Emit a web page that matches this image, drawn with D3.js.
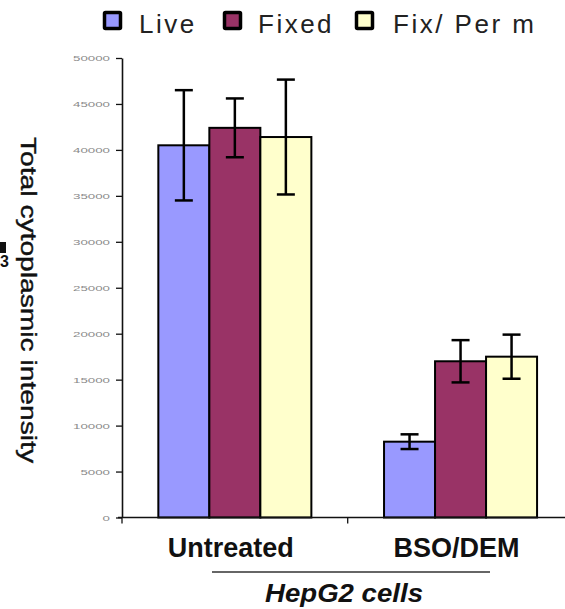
<!DOCTYPE html>
<html>
<head>
<meta charset="utf-8">
<script src="https://cdn.jsdelivr.net/npm/d3@7"></script>
<style>
  html, body { margin: 0; padding: 0; background: #fff; }
  svg { display: block; }
</style>
</head>
<body>
<script>
// Group labels, series and values (mean ± error) of cytoplasmic intensity
const categories = ["Untreated", "BSO/DEM"];
const seriesNames = ["Live", "Fixed", "Fix/ Per m"];
const seriesColors = ["#9999FF", "#993366", "#FFFFCC"];
const liveMeans = [40500, 8250];
const fixedMeans = [42400, 17000];
const permMeans = [41400, 17500];
const liveErrors = [6000, 800];
const fixedErrors = [3200, 2300];
const permErrors = [6250, 2400];
const yTicks = [0, 5000, 10000, 15000, 20000, 25000, 30000, 35000, 40000, 45000, 50000];

const W = 565, H = 609;
const svg = d3.select("body").append("svg").attr("width", W).attr("height", H);

const plot = { left: 122, right: 573.4, top: 58, bottom: 517.5 };

const y = d3.scaleLinear().domain([0, 50000]).range([plot.bottom, plot.top]);
const x0 = d3.scaleBand().domain(categories).range([plot.left, plot.right])
  .paddingInner(0.322).paddingOuter(0.161);
const x1 = d3.scaleBand().domain(seriesNames).range([0, x0.bandwidth()]);
const color = d3.scaleOrdinal().domain(seriesNames).range(seriesColors);

const means = [liveMeans, fixedMeans, permMeans];
const errors = [liveErrors, fixedErrors, permErrors];
const rows = [];
categories.forEach((c, ci) => {
  seriesNames.forEach((s, si) => {
    rows.push({ cat: c, series: s, value: means[si][ci], err: errors[si][ci] });
  });
});

// Bars
svg.append("g").selectAll("rect").data(rows).join("rect")
  .attr("x", d => x0(d.cat) + x1(d.series))
  .attr("y", d => y(d.value))
  .attr("width", x1.bandwidth())
  .attr("height", d => y(0) - y(d.value))
  .attr("fill", d => color(d.series))
  .attr("stroke", "#000")
  .attr("stroke-width", 2);

// Error bars
const eb = svg.append("g").attr("stroke", "#000").attr("stroke-width", 2.5);
rows.forEach(d => {
  const cx = x0(d.cat) + x1(d.series) + x1.bandwidth() / 2;
  const yt = y(d.value + d.err), yb = y(d.value - d.err);
  eb.append("line").attr("x1", cx).attr("x2", cx).attr("y1", yt).attr("y2", yb);
  eb.append("line").attr("x1", cx - 9).attr("x2", cx + 9).attr("y1", yt).attr("y2", yt);
  eb.append("line").attr("x1", cx - 9).attr("x2", cx + 9).attr("y1", yb).attr("y2", yb);
});

// Y axis
const yAxis = svg.append("g").attr("transform", `translate(${plot.left},0)`)
  .call(d3.axisLeft(y).tickValues(yTicks).tickSize(6).tickSizeOuter(0).tickFormat(d3.format("d")));
yAxis.select(".domain").attr("stroke", "#111").attr("stroke-width", 1.6);
yAxis.selectAll(".tick line").attr("stroke", "#111").attr("stroke-width", 1.3);
yAxis.selectAll(".tick text")
  .attr("x", -12)
  .attr("dy", "0.35em")
  .attr("fill", "#8a8a8a")
  .attr("font-family", "Liberation Sans, Arial, sans-serif")
  .attr("font-size", 8)
  .attr("textLength", function () { return this.textContent.length * 7.4; })
  .attr("lengthAdjust", "spacingAndGlyphs");

// X axis
const xAxis = svg.append("g").attr("transform", `translate(0,${plot.bottom})`);
xAxis.append("line").attr("x1", plot.left - 4).attr("x2", W)
  .attr("y1", 0).attr("y2", 0).attr("stroke", "#111").attr("stroke-width", 1.6);
const boundaries = [plot.left, (x0(categories[0]) + x0.bandwidth() + x0(categories[1])) / 2];
xAxis.selectAll("line.tk").data(boundaries).join("line").attr("class", "tk")
  .attr("x1", d => d).attr("x2", d => d).attr("y1", 0).attr("y2", 6)
  .attr("stroke", "#111").attr("stroke-width", 1.3);

// Category labels
svg.append("g").selectAll("text").data(categories).join("text")
  .attr("x", d => x0(d) + x0.bandwidth() / 2 - 4)
  .attr("y", 557)
  .attr("text-anchor", "middle")
  .attr("font-family", "Liberation Sans, Arial, sans-serif")
  .attr("font-weight", "bold")
  .attr("font-size", 27)
  .attr("fill", "#111")
  .text(d => d);

// Bracket line and group caption
svg.append("line").attr("x1", 212).attr("x2", 490).attr("y1", 572).attr("y2", 572)
  .attr("stroke", "#333").attr("stroke-width", 1.5);
svg.append("text")
  .attr("x", 344).attr("y", 602)
  .attr("text-anchor", "middle")
  .attr("font-family", "Liberation Sans, Arial, sans-serif")
  .attr("font-weight", "bold").attr("font-style", "italic")
  .attr("font-size", 25)
  .attr("textLength", 158).attr("lengthAdjust", "spacingAndGlyphs")
  .attr("fill", "#111")
  .text("HepG2 cells");

// Y axis title
svg.append("text")
  .attr("transform", "translate(21,300) rotate(90)")
  .attr("text-anchor", "middle")
  .attr("font-family", "Liberation Sans, Arial, sans-serif")
  .attr("font-size", 22)
  .attr("stroke", "#111").attr("stroke-width", 0.4)
  .attr("textLength", 326).attr("lengthAdjust", "spacingAndGlyphs")
  .attr("fill", "#111")
  .text("Total cytoplasmic intensity");

// Panel marker at the left edge
svg.append("rect").attr("x", 0).attr("y", 242).attr("width", 6).attr("height", 11).attr("fill", "#111");
svg.append("text").attr("x", 0).attr("y", 267)
  .attr("font-family", "Liberation Sans, Arial, sans-serif")
  .attr("font-weight", "bold").attr("font-size", 16).attr("fill", "#111")
  .text("3");

// Legend
const legendX = [103, 223, 355];
const legendTextX = [139, 258, 393];
const legend = svg.append("g");
seriesNames.forEach((s, i) => {
  legend.append("rect")
    .attr("x", legendX[i] + 1.5).attr("y", 12.5)
    .attr("width", 16).attr("height", 16)
    .attr("fill", color(s)).attr("stroke", "#000").attr("stroke-width", 3.5)
    .attr("rx", 1);
  legend.append("text")
    .attr("x", legendTextX[i]).attr("y", 33)
    .attr("font-family", "Liberation Sans, Arial, sans-serif")
    .attr("font-size", 26)
    .attr("letter-spacing", 2.5)
    .attr("fill", "#222")
    .text(s);
});
</script>
</body>
</html>
